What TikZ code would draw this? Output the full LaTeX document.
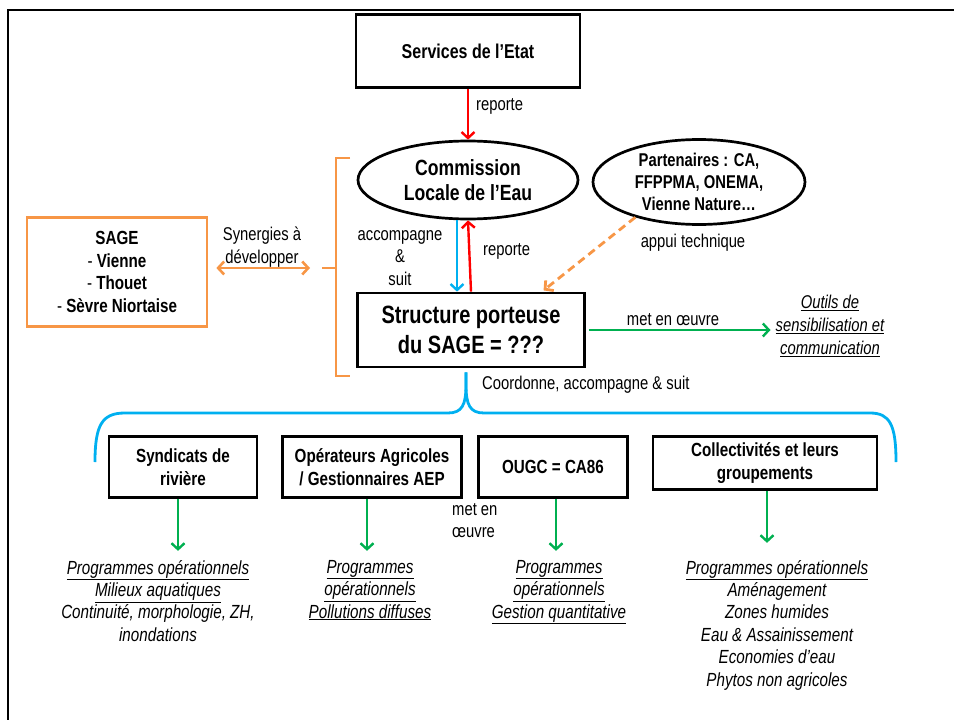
\documentclass[tikz,border=0pt]{standalone}
\usepackage{fontspec}
\setmainfont{Liberation Sans}[FakeStretch=0.8]
\usepackage{xcolor}
\usepackage{tikz}
\usetikzlibrary{positioning,arrows.meta,shapes}
\definecolor{sred}{HTML}{FF0000}
\definecolor{sblue}{HTML}{00B0F0}
\definecolor{sorange}{HTML}{F79646}
\definecolor{sgreen}{HTML}{00B050}

\begin{document}
\begin{tikzpicture}[x=1pt, y=-1pt,
    box/.style={draw, line width=2.7pt, align=center, inner sep=0pt, font=\bfseries\fontsize{19}{23}\selectfont},
    oval/.style={draw, ellipse, line width=2.7pt, align=center, inner sep=0pt},
    lbl/.style={align=center, inner sep=0pt, font=\fontsize{18.5}{22.5}\selectfont},
    prog/.style={align=center, inner sep=0pt, anchor=north, font=\itshape\fontsize{19}{22.4}\selectfont},
    arr/.style={line width=2.4pt, -{Straight Barb[length=6pt,width=13pt]}},
    arrs/.style={line width=2.6pt, {Straight Barb[length=6pt,width=13pt]}-{Straight Barb[length=6pt,width=13pt]}}
]
\useasboundingbox (0,0) rectangle (954,720);
\clip (0,0) rectangle (954,720);
\draw[line width=2.8pt] (8,10) rectangle (980,740);

\node[box, minimum width=224, minimum height=73, font=\bfseries\fontsize{20}{24}\selectfont] (etat) at (468,51) {Services de l’Etat};
\node[oval, minimum width=220, minimum height=78, font=\bfseries\fontsize{22}{25}\selectfont] (cle) at (468,180) {Commission\\Locale de l’Eau};
\node[oval, minimum width=212, minimum height=85, font=\bfseries\fontsize{18.5}{22}\selectfont] (part) at (699,182) {Partenaires : CA,\\FFPPMA, ONEMA,\\Vienne Nature…};
\node[box, draw=sorange, minimum width=180, minimum height=109, font=\bfseries\fontsize{19}{22.4}\selectfont] (sage) at (117,272) {SAGE\\\textmd{-} Vienne\\\textmd{-} Thouet\\\textmd{-} Sèvre Niortaise};
\node[box, minimum width=227, minimum height=74, font=\bfseries\fontsize{25}{30}\selectfont] (struct) at (471,330) {Structure porteuse\\du SAGE = ???};
\node[lbl, font=\itshape\fontsize{18.5}{23}\selectfont] (outils) at (830,326) {\underline{Outils de}\\\underline{sensibilisation et}\\\underline{communication}};

\node[box, minimum width=148, minimum height=61] (synd) at (183,467) {Syndicats de\\rivière};
\node[box, minimum width=179, minimum height=61] (oper) at (372,467) {Opérateurs Agricoles\\/ Gestionnaires AEP};
\node[box, minimum width=149, minimum height=61] (ougc) at (553,467) {OUGC = CA86};
\node[box, minimum width=224, minimum height=53] (coll) at (765,463) {Collectivités et leurs\\groupements};

\draw[arr, sred] (etat) -- (cle);
\node[lbl, anchor=west] (rep1) at (476,106) {reporte};

\draw[arr, sblue] ([xshift=-11pt]cle.south) -- ([xshift=-14pt]struct.north);
\draw[arr, sred] (struct.north) -- (cle.south);
\node[lbl] (acc) at (400,258) {accompagne\\\&\\suit};
\node[lbl, anchor=west] (rep2) at (483,251) {reporte};

\draw[arr, sorange, line width=2.8pt, dash pattern=on 8pt off 5pt, shorten >=2pt] (part.-151) -- ([xshift=71pt]struct.north);
\node[lbl] (appui) at (693,243) {appui technique};

\draw[sorange, line width=2.8pt] (350,158) -- (336,158) -- (336,376) -- (350,376);
\coordinate (nub) at (322,268);
\draw[sorange, line width=2.8pt] (336,268) -- (nub);
\draw[arrs, sorange] ([xshift=8pt,yshift=4pt]sage.east) -- ([xshift=-12pt]nub);
\node[lbl] (syn) at (262,247) {Synergies à\\développer};

\draw[arr, sgreen, shorten >=5pt] ([xshift=3pt]struct.east) -- (struct.east -| outils.west);
\node[lbl] (oeuv1) at (673,320) {met en œuvre};

\coordinate (tip) at ([xshift=-5pt,yshift=-4pt]struct.south);
\draw[sblue, line width=2.8pt] (95,462) .. controls (95,425) and (102,413) .. (125,413) -- (448,413)
    .. controls (462,413) and (466,405) .. (466,385) -- (tip);
\draw[sblue, line width=2.8pt] (tip) -- (466,385) .. controls (466,405) and (470,413) .. (484,413)
    -- (870,413) .. controls (890,413) and (896,425) .. (896,462);
\node[lbl, anchor=west] (coord) at (482,385) {Coordonne, accompagne \& suit};

\foreach \b/\d in {synd/-5, oper/-5, ougc/3, coll/2}
    \draw[arr, sgreen] ([xshift=\d pt]\b.south) -- ++(0,-52pt);
\node[lbl, align=left, anchor=north west] (oeuv2) at (452,503) {met en\\œuvre};

\node[prog] (t1) at (158,560) {\underline{Programmes opérationnels}\\\underline{Milieux aquatiques}\\Continuité, morphologie, ZH,\\inondations};
\node[prog] (t2) at (370,560) {\underline{Programmes}\\\underline{opérationnels}\\\underline{Pollutions diffuses}};
\node[prog] (t3) at (559,560) {\underline{Programmes}\\\underline{opérationnels}\\\underline{Gestion quantitative}};
\node[prog] (t4) at (777,560) {\underline{Programmes opérationnels}\\Aménagement\\Zones humides\\Eau \& Assainissement\\Economies d’eau\\Phytos non agricoles};
\end{tikzpicture}
\end{document}
